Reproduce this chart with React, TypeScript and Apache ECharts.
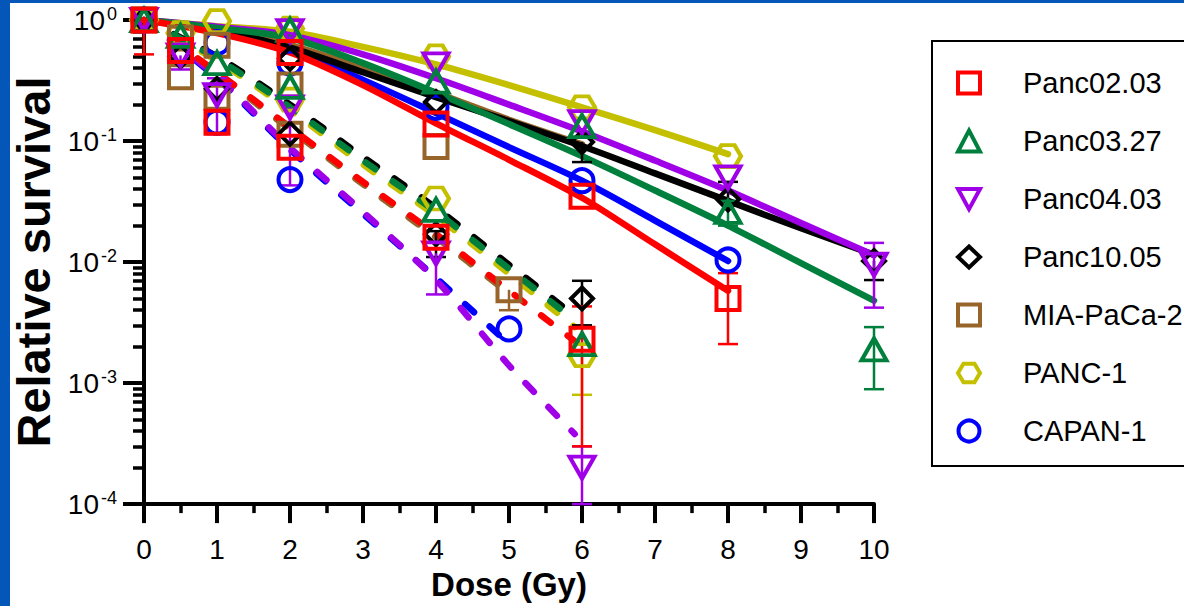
import React, { useEffect, useRef } from "react";
import * as echarts from "echarts";

const FONT = "'Liberation Sans', Arial, sans-serif";

const cellLines = ["Panc02.03", "Panc03.27", "Panc04.03", "Panc10.05", "MIA-PaCa-2", "PANC-1", "CAPAN-1"];
const lineColors = ["#ff0000", "#00803c", "#a000e8", "#000000", "#97652a", "#c4c000", "#0000ff"];

// fitted survival curves (solid = condition A, dashed = condition B)
const solidDoses = [0, 1, 2, 3, 4, 5, 6, 7, 8, 9, 10];
const panc0203Solid = [1, 0.78, 0.54, 0.29, 0.14, 0.07, 0.034, 0.014, 0.0058];
const panc0327Solid = [1, 0.86, 0.71, 0.44, 0.25, 0.138, 0.075, 0.039, 0.02, 0.0098, 0.0048];
const panc0403Solid = [1, 0.88, 0.75, 0.52, 0.33, 0.2, 0.12, 0.069, 0.039, 0.021, 0.0114];
const panc1005Solid = [1, 0.83, 0.59, 0.37, 0.23, 0.146, 0.091, 0.054, 0.032, 0.019, 0.0115];
const miaSolid = [1, 0.84, 0.62, 0.4, 0.25, 0.15, 0.094];
const panc1Solid = [1, 0.89, 0.8, 0.6, 0.43, 0.29, 0.19, 0.123, 0.078];
const capan1Solid = [1, 0.81, 0.57, 0.32, 0.17, 0.089, 0.047, 0.022, 0.0102];

const dashDoses6 = [0, 1, 2, 3, 4, 5, 6];
const dashDoses59 = [0, 1, 2, 3, 4, 5, 5.9];
const dashDoses5 = [0, 1, 2, 3, 4, 5];
const panc0203Dashed = [1, 0.37, 0.13, 0.046, 0.017, 0.0058, 0.002];
const panc0327Dashed = [1, 0.48, 0.19, 0.069, 0.026, 0.0088, 0.0033];
const panc0403Dashed = [1, 0.34, 0.088, 0.026, 0.0071, 0.0014, 0.00038];
const panc1005Dashed = [1, 0.5, 0.2, 0.074, 0.028, 0.0095, 0.0036];
const miaDashed = [1, 0.36, 0.125, 0.044, 0.016, 0.0055];
const panc1Dashed = [1, 0.46, 0.18, 0.064, 0.024, 0.008, 0.0029];
const capan1Dashed = [1, 0.33, 0.085, 0.025, 0.0074, 0.0021];

// measured points [dose, survival]
const panc0203Points = [[0, 1], [0.5, 0.56], [1, 0.143], [2, 0.54], [2, 0.089], [4, 0.138], [4, 0.016], [6, 0.035], [6, 0.0023], [8, 0.005]];
const panc0327Points = [[0, 1], [0.5, 0.74], [1, 0.44], [2, 0.83], [2, 0.28], [4, 0.31], [4, 0.027], [6, 0.133], [6, 0.0021], [8, 0.026], [10, 0.0019]];
const panc0403Points = [[0, 1], [0.5, 0.51], [1, 0.24], [2, 0.81], [2, 0.19], [4, 0.43], [4, 0.0118], [6, 0.143], [6, 0.0002], [8, 0.05], [10, 0.0095]];
const panc1005Points = [[0, 1], [0.5, 0.5], [1, 0.27], [2, 0.48], [2, 0.115], [4, 0.21], [4, 0.017], [6, 0.098], [6, 0.005], [8, 0.033], [10, 0.0102]];
const miaPoints = [[0, 1], [0.5, 0.71], [0.5, 0.34], [1, 0.62], [1, 0.23], [2, 0.29], [2, 0.114], [4, 0.09], [5, 0.0059]];
const panc1Points = [[0, 1], [0.5, 0.78], [1, 0.98], [2, 0.85], [2, 0.22], [4, 0.5], [4, 0.0335], [6, 0.19], [6, 0.0017], [8, 0.075]];
const capan1Points = [[0, 1], [1, 0.65], [1, 0.143], [2, 0.44], [2, 0.048], [4, 0.19], [5, 0.0028], [6, 0.047], [8, 0.0104]];

// error bars [dose, survival, low, high]
const panc0203Err = [[0, 1, 0.52, 1], [6, 0.0023, 0.0003, 0.0043], [8, 0.005, 0.0021, 0.0081]];
const panc0327Err = [[8, 0.026, 0.02, 0.032], [10, 0.0019, 0.00089, 0.0029]];
const panc0403Err = [[0.5, 0.51, 0.39, 0.51], [1, 0.24, 0.114, 0.33], [2, 0.19, 0.043, 0.19], [4, 0.0118, 0.0054, 0.0118], [6, 0.0002, 0.0001, 0.0003], [10, 0.0095, 0.0042, 0.0144]];
const panc1005Err = [[4, 0.017, 0.011, 0.018], [6, 0.098, 0.067, 0.098], [6, 0.005, 0.003, 0.007], [8, 0.033, 0.033, 0.046], [10, 0.0102, 0.0071, 0.0102]];
const miaErr = [[5, 0.0059, 0.004, 0.0059]];
const panc1Err = [[6, 0.0017, 0.0008, 0.0017]];
const capan1Err = [];

const yTickDecades = [0.0001, 0.001, 0.01, 0.1];
const yMinorMultipliers = [2, 3, 4, 5, 6, 7, 8, 9];

const HEX = "path://M0,5 L3,0 L9,0 L12,5 L9,10 L3,10 Z";
const TRI_DOWN = "path://M0,0 L12,0 L6,11 Z";
const symbols = ["rect", "triangle", TRI_DOWN, "diamond", "rect", HEX, "circle"];
const symbolSizes: any[] = [[23, 23], [25, 22], [25, 22], [22, 22], [23, 23], [26, 22], [23, 23]];

const solidData = [panc0203Solid, panc0327Solid, panc0403Solid, panc1005Solid, miaSolid, panc1Solid, capan1Solid];
const dashedData = [panc0203Dashed, panc0327Dashed, panc0403Dashed, panc1005Dashed, miaDashed, panc1Dashed, capan1Dashed];
const dashedDoses = [dashDoses6, dashDoses59, dashDoses59, dashDoses59, dashDoses5, dashDoses59, dashDoses5];
const pointData = [panc0203Points, panc0327Points, panc0403Points, panc1005Points, miaPoints, panc1Points, capan1Points];
const errData = [panc0203Err, panc0327Err, panc0403Err, panc1005Err, miaErr, panc1Err, capan1Err];

export default function App() {
  const ref = useRef<HTMLDivElement>(null);
  useEffect(() => {
    if (!ref.current) return;
    const chart = echarts.init(ref.current, null, { renderer: "svg" });
    const minorTicks: number[] = [];
    yTickDecades.forEach((d) => yMinorMultipliers.forEach((m) => minorTicks.push(+(d * m).toPrecision(3))));

    const order = [6, 5, 4, 3, 2, 1, 0];
    const series: any[] = [];
    order.forEach((i) => {
      const c = lineColors[i];
      series.push({
        type: "line", name: cellLines[i] + " fit", z: 2, symbol: "none", smooth: 0.3,
        lineStyle: { color: c, width: 6.5, cap: "round", opacity: 1 },
        data: solidData[i].map((v, k) => [solidDoses[k], v]),
      });
    });
    order.forEach((i) => {
      const c = lineColors[i];
      series.push({
        type: "line", name: cellLines[i] + " fit 2", z: 2, symbol: "none", smooth: 0.3,
        lineStyle: { color: c, width: 6.5, type: [12, 21], cap: "round", opacity: 1 },
        data: dashedData[i].map((v, k) => [dashedDoses[i][k], v]),
      });
    });
    order.forEach((i) => {
      const c = lineColors[i];
      series.push({
        type: "custom", name: cellLines[i] + " err", z: 3,
        renderItem: (params: any, api: any) => {
          const x = api.value(0), y = api.value(1), lo = api.value(2), hi = api.value(3);
          const pLo = api.coord([x, lo]);
          const pHi = api.coord([x, hi]);
          const st = { stroke: c, lineWidth: 2.5 };
          const children: any[] = [{ type: "line", shape: { x1: pLo[0], y1: pLo[1], x2: pHi[0], y2: pHi[1] }, style: st }];
          if (lo < y) children.push({ type: "line", shape: { x1: pLo[0] - 10, y1: pLo[1], x2: pLo[0] + 10, y2: pLo[1] }, style: st });
          if (hi > y) children.push({ type: "line", shape: { x1: pHi[0] - 10, y1: pHi[1], x2: pHi[0] + 10, y2: pHi[1] }, style: st });
          return { type: "group", children };
        },
        encode: { x: 0, y: [1, 2, 3] },
        data: errData[i],
      });
      series.push({
        type: "scatter", name: cellLines[i], z: 4,
        symbol: symbols[i], symbolSize: symbolSizes[i], symbolKeepAspect: false,
        itemStyle: { color: "transparent", borderColor: c, borderWidth: 4, opacity: 1 },
        emphasis: { disabled: true },
        data: pointData[i],
      });
    });

    chart.setOption({
      animation: false,
      textStyle: { fontFamily: FONT },
      graphic: [
        { type: "rect", left: 0, top: 0, shape: { width: 10, height: 606 }, style: { fill: "#0457b9" }, z: 100 },
        { type: "rect", left: 0, top: 0, shape: { width: 1184, height: 3 }, style: { fill: "#0457b9" }, z: 100 },
      ],
      grid: { left: 144, top: 20, right: 310, bottom: 98 },
      legend: {
        orient: "vertical", left: 932, top: 41,
        padding: [27, 40, 20, 24],
        itemWidth: 22, itemHeight: 21, itemGap: 28,
        borderColor: "#000", borderWidth: 2, selectedMode: false,
        textStyle: { fontSize: 29, color: "#000", fontFamily: FONT, lineHeight: 30, padding: [0, 0, 0, 38] },
        data: cellLines.map((n, i) => ({
          name: n,
          itemStyle: { color: "transparent", borderColor: lineColors[i], borderWidth: 4, opacity: 1 },
        })),
      },
      xAxis: {
        type: "value", min: 0, max: 10, interval: 1,
        axisLine: { onZero: false, lineStyle: { color: "#000", width: 4 } },
        axisTick: { length: 19, lineStyle: { color: "#000", width: 4 } },
        minorTick: { show: true, splitNumber: 2, length: 9, lineStyle: { color: "#000", width: 3.5 } },
        axisLabel: { fontSize: 28, color: "#000", margin: 31, fontFamily: FONT },
        splitLine: { show: false },
        name: "Dose (Gy)", nameLocation: "middle", nameGap: 58,
        nameTextStyle: { fontSize: 33, fontWeight: "bold", color: "#000", fontFamily: FONT },
      },
      yAxis: [
        {
          type: "log", logBase: 10, min: 0.0001, max: 1,
          axisLine: { show: true, lineStyle: { color: "#000", width: 4 } },
          axisTick: { show: true, length: 21, lineStyle: { color: "#000", width: 4 } },
          axisLabel: {
            margin: 27, color: "#000",
            formatter: (v: number) => `{b|10}{s|${Math.round(Math.log10(v))}}`,
            rich: {
              b: { fontSize: 28, fontFamily: FONT, color: "#000" },
              s: { fontSize: 18, fontFamily: FONT, color: "#000", padding: [0, 0, 12, 2] },
            },
          },
          splitLine: { show: false },
          name: "Relative survival", nameLocation: "middle", nameGap: 80,
          nameTextStyle: { fontSize: 47, fontWeight: "bold", color: "#000", fontFamily: FONT },
        },
        {
          type: "log", logBase: 10, min: 0.0001, max: 1, position: "left",
          axisLine: { show: false },
          axisTick: { show: true, length: 11, lineStyle: { color: "#000", width: 3.5 }, customValues: minorTicks },
          axisLabel: { show: false },
          splitLine: { show: false },
        },
      ],
      series,
    });
    return () => chart.dispose();
  }, []);
  return <div ref={ref} style={{ position: "fixed", left: 0, top: 0, width: 1184, height: 606, background: "#fff" }} />;
}
